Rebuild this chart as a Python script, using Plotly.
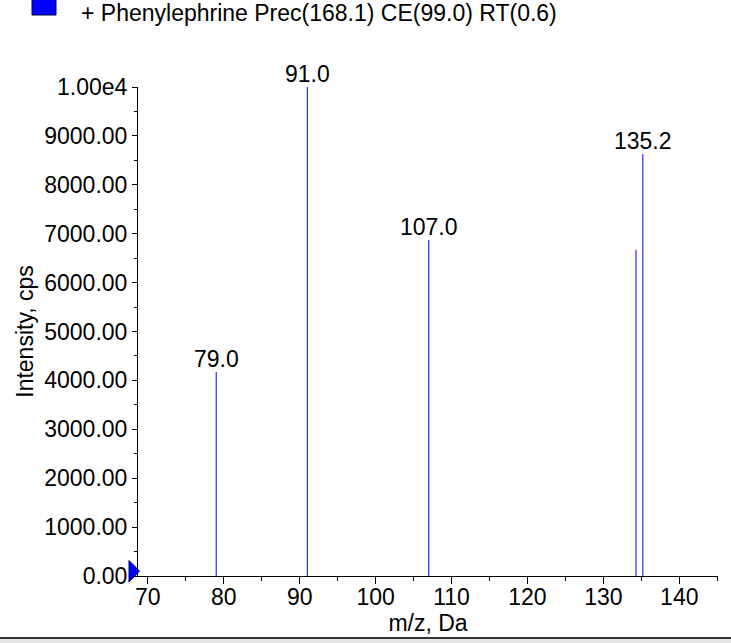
import plotly.graph_objects as go

# ---- data ----
mz = [79.0, 91.0, 107.0, 134.3, 135.2]
intensity = [4170, 10000, 6870, 6670, 8630]
peak_labels = ["79.0", "91.0", "107.0", "", "135.2"]
y_tickvals = [0, 1000, 2000, 3000, 4000, 5000, 6000, 7000, 8000, 9000, 10000]
y_ticktext = ["0.00", "1000.00", "2000.00", "3000.00", "4000.00", "5000.00",
              "6000.00", "7000.00", "8000.00", "9000.00", "1.00e4"]
x_tickvals = [70, 80, 90, 100, 110, 120, 130, 140]
title_text = "+ Phenylephrine Prec(168.1) CE(99.0) RT(0.6)"
x_title = "m/z, Da"
y_title = "Intensity, cps"
x_range = [68.7, 145.1]
y_range = [0, 10000]

FONT = "Liberation Sans, Arial, sans-serif"
FS = 23
W, H = 731, 643
ML, MR, MT, MB = 138, 13, 87, 67
PW, PH = W - ML - MR, H - MT - MB


def px_x(p):  # page pixel -> paper
    return (p - ML) / PW


def px_y(p):
    return (H - MB - p) / PH


xs, ys = [], []
for m, v in zip(mz, intensity):
    xs += [m, m, None]
    ys += [0, v, None]

fig = go.Figure()
fig.add_trace(go.Scatter(x=xs, y=ys, mode="lines",
                         line=dict(color="#0000ff", width=1),
                         hoverinfo="skip", showlegend=False, cliponaxis=False))

for m, v, lab in zip(mz, intensity, peak_labels):
    if lab:
        fig.add_annotation(x=m, y=v, text=lab, showarrow=False,
                           xanchor="center", yanchor="bottom", yshift=-2,
                           font=dict(family=FONT, size=FS, color="black"))

# title legend square and text
fig.add_shape(type="rect", xref="paper", yref="paper",
              x0=px_x(32), x1=px_x(56), y0=px_y(15), y1=px_y(-6),
              fillcolor="#0000ff", line=dict(color="#000033", width=1))
fig.add_annotation(xref="paper", yref="paper", x=px_x(79), y=px_y(13),
                   text=title_text, showarrow=False, xanchor="left",
                   yanchor="middle",
                   font=dict(family=FONT, size=FS, color="black"))

# origin triangle
x0t, x1t = px_x(129), px_x(139.5)
yt, yb, ym = px_y(560.5), px_y(582), px_y(571)
fig.add_shape(type="path", xref="paper", yref="paper",
              path=f"M {x0t} {yt} L {x1t} {ym} L {x0t} {yb} Z",
              fillcolor="#0000ff", line=dict(color="#000066", width=1))

# bottom grey band
fig.add_shape(type="rect", xref="paper", yref="paper",
              x0=px_x(0), x1=px_x(731), y0=px_y(650), y1=px_y(638),
              fillcolor="#e6e6e6", line=dict(width=0))
fig.add_shape(type="line", xref="paper", yref="paper",
              x0=px_x(0), x1=px_x(731), y0=px_y(638), y1=px_y(638),
              line=dict(color="#333333", width=2))

fig.update_layout(
    width=W, height=H,
    margin=dict(l=ML, r=MR, t=MT, b=MB, pad=0),
    plot_bgcolor="white", paper_bgcolor="white",
    font=dict(family=FONT, size=FS, color="black"),
    showlegend=False,
)
fig.update_xaxes(
    range=x_range, showgrid=False, zeroline=False,
    showline=True, linecolor="black", linewidth=1,
    ticks="outside", ticklen=7, tickcolor="black", tickwidth=1,
    tickvals=x_tickvals, tickfont=dict(family=FONT, size=FS),
    minor=dict(dtick=5, tick0=0, ticks="outside", ticklen=4, tickcolor="black"),
    title=dict(text=x_title, font=dict(family=FONT, size=FS), standoff=0),
    ticklabelstandoff=-7,
)
fig.update_yaxes(
    range=y_range, showgrid=False, zeroline=False,
    showline=True, linecolor="black", linewidth=1,
    ticks="outside", ticklen=5, tickcolor="black", tickwidth=1,
    tickvals=y_tickvals, ticktext=y_ticktext, tickfont=dict(family=FONT, size=FS),
    minor=dict(dtick=500, tick0=0, ticks="outside", ticklen=3, tickcolor="black"),
    title=dict(text=y_title, font=dict(family=FONT, size=FS), standoff=4),
)

fig.write_html("out.html",
               config={"displayModeBar": False},
               post_script="document.body.style.margin='0';")
